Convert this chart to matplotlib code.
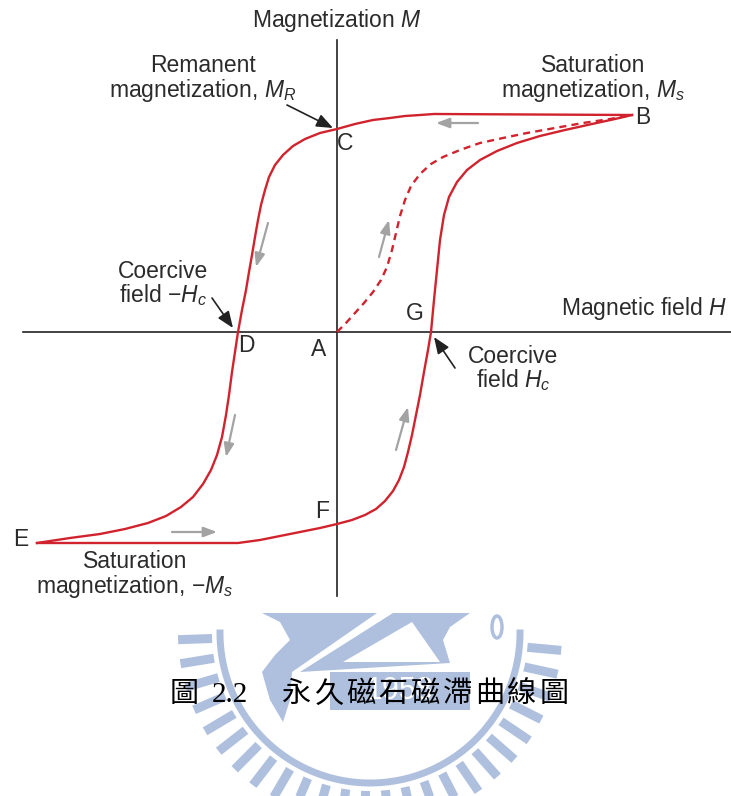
import numpy as np
import matplotlib.pyplot as plt
from matplotlib.patches import FancyArrowPatch, Polygon, Rectangle, Ellipse

plt.rcParams['font.family'] = ['Liberation Sans', 'DejaVu Sans']
plt.rcParams['mathtext.fontset'] = 'custom'
plt.rcParams['mathtext.rm'] = 'Liberation Sans'
plt.rcParams['mathtext.it'] = 'Liberation Sans:italic'

# hysteresis loop, arbitrary units (H to the right, M up), origin at A
# descending branch B -> C -> D -> E
desc_H = [295, 97, 83, 68, 53, 36, 18, 0, -17, -32, -44, -54, -62, -68, -72,
          -76, -79, -82, -85, -88, -91, -95, -99, -102, -105, -108, -111,
          -115, -120, -126, -134, -144, -156, -171, -189, -212, -237, -267,
          -300]
desc_M = [217, 218, 217, 216, 214, 212, 208, 203, 199, 193, 186, 177, 167,
          155, 142, 127, 112, 95, 77, 60, 42, 22, 0, -20, -40, -63, -83, -105,
          -123, -138, -152, -165, -175, -184, -191, -197, -202, -206, -211]

# ascending branch E -> F -> G -> B
asc_H = [-300, -99, -77, -57, -37, -17, 0, 15, 28, 39, 48, 56, 62, 67, 71, 75,
         79, 83, 87, 91, 94, 97, 100, 103, 107, 112, 120, 130, 143, 160, 180,
         203, 228, 255, 278, 295]
asc_M = [-211, -211, -208, -204, -200, -196, -192, -188, -183, -177, -169,
         -159, -148, -135, -120, -103, -83, -63, -40, -18, 0, 32, 62, 92, 117,
         135, 150, 162, 172, 181, 189, 196, 202, 208, 213, 217]

# initial magnetization curve A -> B
init_H = [0, 9, 18, 27, 36, 44, 50, 55, 59, 63, 68, 74, 83, 94, 106, 123, 143,
          166, 190, 218, 246, 273, 295]
init_M = [0, 9, 19, 29, 40, 52, 65, 82, 99, 116, 132, 146, 158, 168, 175, 182,
          189, 194, 199, 204, 209, 213, 217]

# direction markers along the loop: (H0, M0, H1, M1)
flow_arrows = [(141, 209, 99, 209), (-69, 109, -81, 65), (42, 75, 52, 112),
               (-102, -83, -111, -125), (59, -118, 71, -75),
               (-165, -200, -120, -200)]

RED = '#d1232d'
GRAY = '#a3a3a3'
BLUE = '#afc0de'

fig = plt.figure(figsize=(7.31, 7.96), dpi=100)
ax = fig.add_axes([0, 0, 1, 1])
ax.set_xlim(-337, 394)
ax.set_ylim(-464, 332)
ax.axis('off')

# --- faint emblem behind the caption ---
cx, cy = 33, -301
clip = Rectangle((-337, -464), 731, 464 - 280, transform=ax.transData)

def wm(pts):
    # emblem outline given as (dx, dy) pixel offsets, dy pointing down
    return [(cx + dx, cy - dy) for dx, dy in pts]

wm_items = []
for ang in np.arange(182, 360, 7.2):
    a = np.deg2rad(ang)
    ln, = ax.plot([cx + 158 * np.cos(a), cx + 192 * np.cos(a)],
                  [cy + 158 * np.sin(a), cy + 192 * np.sin(a)],
                  color=BLUE, lw=6.5, solid_capstyle='butt', zorder=0)
    wm_items.append(ln)
t = np.linspace(np.pi, 2 * np.pi, 200)
ring, = ax.plot(cx + 150 * np.cos(t), cy + 150 * np.sin(t), color=BLUE,
                lw=5, zorder=0)
wm_items.append(ring)

shapes = [
    [(-108, -20), (7, -20), (-78, 39), (-80, 67), (-87, 89), (-100, 67),
     (-108, 39), (-95, 22), (-80, 7), (-90, -11)],
    [(23, -20), (100, -20), (80, -6), (73, 7), (80, 30), (-70, 39)],
    [(-40, 39), (100, 39), (100, 77), (-40, 77)],
]
for pts in shapes:
    p = Polygon(wm(pts), closed=True, fc=BLUE, ec='none', zorder=0)
    ax.add_patch(p)
    wm_items.append(p)
tri = Polygon(wm([(-27, 29), (42, -11), (70, 29)]), closed=True, fc='white',
              ec='none', zorder=0)
ax.add_patch(tri)
wm_items.append(tri)
oval = Ellipse((cx + 127, cy + 6), 10, 22, fc='none', ec=BLUE, lw=2.5, zorder=0)
ax.add_patch(oval)
wm_items.append(oval)
yr = ax.text(cx + 30, cy - 58, '1958', color='white', fontsize=22,
             ha='center', va='center', zorder=0.5)
wm_items.append(yr)
for it in wm_items:
    it.set_clip_path(clip)

# --- axes of the diagram ---
ax.plot([-314, 394], [0, 0], color='#222222', lw=1.2, zorder=2)
ax.plot([0, 0], [292, -264], color='#222222', lw=1.2, zorder=2)

# --- loop ---
line_kw = dict(color=RED, lw=1.7, zorder=3, solid_joinstyle='round')
ax.plot(desc_H, desc_M, **line_kw)
ax.plot(asc_H, asc_M, **line_kw)
ax.plot(init_H, init_M, color=RED, lw=1.7, ls=(0, (3, 2.2)), zorder=3)

for h0, m0, h1, m1 in flow_arrows:
    ax.add_patch(FancyArrowPatch((h0, m0), (h1, m1),
                                 arrowstyle='-|>,head_length=8,head_width=3',
                                 color=GRAY, lw=1.6, shrinkA=0, shrinkB=0,
                                 zorder=4))

def pointer(start, end):
    ax.add_patch(FancyArrowPatch(start, end,
                                 arrowstyle='-|>,head_length=10,head_width=4',
                                 color='#222222', lw=1.2, shrinkA=0, shrinkB=0,
                                 zorder=5))

pointer((-50, 227), (-4, 204))
pointer((-125, 34), (-104, 4))
pointer((118, -36), (97, -5))

fs = 16.5
txt = dict(fontsize=fs, color='#2b2b2b', zorder=6)
ax.text(0, 312, 'Magnetization $M$', ha='center', va='center', **txt)
ax.text(390, 24, 'Magnetic field $H$', ha='right', va='center', **txt)

ax.text(-134, 253, 'Remanent\nmagnetization, $M_R$', ha='center',
        va='center', linespacing=0.95, **txt)
ax.text(256, 253, 'Saturation\nmagnetization, $M_s$', ha='center',
        va='center', linespacing=0.95, **txt)
ax.text(-174, 48, 'Coercive\nfield $-H_c$', ha='center', va='center',
        linespacing=0.95, **txt)
ax.text(176, -37, 'Coercive\nfield $H_c$', ha='center', va='center',
        linespacing=0.95, **txt)
ax.text(-202, -243, 'Saturation\nmagnetization, $-M_s$', ha='center',
        va='center', linespacing=0.95, **txt)

points = {'A': (-18, -18), 'B': (306, 215), 'C': (8, 189), 'D': (-91, -13),
          'E': (-316, -208), 'F': (-15, -180), 'G': (78, 19)}
for name, (h, m) in points.items():
    ax.text(h, m, name, ha='center', va='center', **txt)

# --- caption ---
cap = dict(fontsize=21, color='black', va='center', ha='center', zorder=7,
           family=['Liberation Serif', 'Noto Sans CJK TC'])
ax.text(-153, -363, '圖', **cap)
ax.text(-107, -363, '2.2', **cap)
for i, ch in enumerate('永久磁石磁滯曲線圖'):
    ax.text(-41 + 32.25 * i, -363, ch, **cap)

fig.savefig('out.png', dpi=100)
